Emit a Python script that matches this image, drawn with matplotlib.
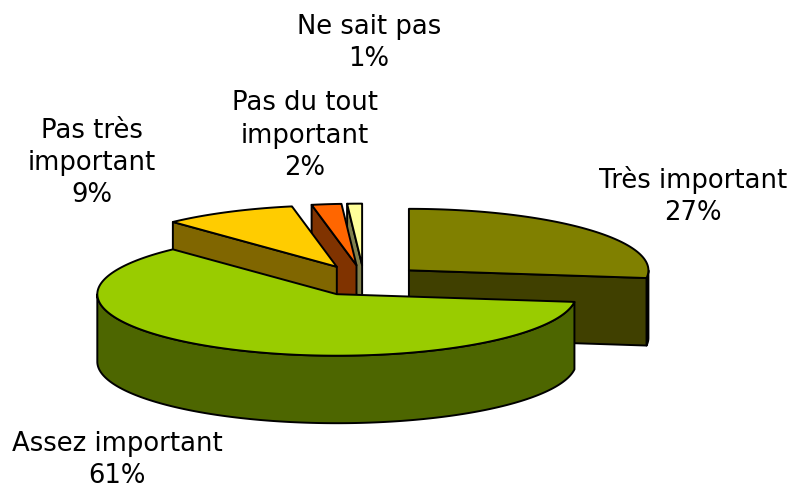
import numpy as np
import matplotlib
matplotlib.use("Agg")
import matplotlib.pyplot as plt
from matplotlib.patches import Polygon

categories = ["Très important", "Assez important", "Pas très important", "Pas du tout important", "Ne sait pas"]
values = [27, 61, 9, 2, 1]
label_text = ["Très important\n27%", "Assez important\n61%", "Pas très\nimportant\n9%", "Pas du tout\nimportant\n2%", "Ne sait pas\n1%"]
top_colors = ["#808000", "#99CC00", "#FFCC00", "#FF6600", "#FFFF99"]
side_colors = ["#404000", "#4D6600", "#806600", "#803300", "#80804D"]
label_pos = [(693, 196), (117, 460), (92, 163), (305, 135.5), (369, 43)]
draw_order = [0, 4, 3, 2, 1]

W, H = 793, 486
CX, CY, RX, RY, DEPTH, EXPLODE = 364, 280.5, 239.5, 61.5, 67.5, 0.25

fig = plt.figure(figsize=(W / 100, H / 100), dpi=100)
ax = fig.add_axes([0, 0, 1, 1])
ax.set_xlim(0, W)
ax.set_ylim(H, 0)
ax.axis("off")


def pt(c, a):
    a = np.asarray(a)
    return np.column_stack([c[0] + RX * np.sin(a), c[1] - RY * np.cos(a)])


edges = np.radians(np.concatenate([[0], np.cumsum(values)]) / np.sum(values) * 360)
lw = 1.4
for i in draw_order:
    a0, a1 = edges[i], edges[i + 1]
    mid = (a0 + a1) / 2
    c = (CX + EXPLODE * RX * np.sin(mid), CY - EXPLODE * RY * np.cos(mid))
    down = np.array([0, DEPTH])
    kw = dict(edgecolor="black", linewidth=lw, joinstyle="round")
    # outer front wall
    lo, hi = max(a0, np.pi / 2), min(a1, 3 * np.pi / 2)
    if hi > lo:
        arc = pt(c, np.linspace(lo, hi, 200))
        ax.add_patch(Polygon(np.vstack([arc, (arc + down)[::-1]]), facecolor=side_colors[i], **kw))
    # radial cut faces
    for a, visible in ((a0, np.sin(a0) < 0), (a1, np.sin(a1) > 0)):
        if visible:
            rim = pt(c, [a])[0]
            ctr = np.array(c)
            ax.add_patch(Polygon([ctr, rim, rim + down, ctr + down], facecolor=side_colors[i], **kw))
    # top
    arc = pt(c, np.linspace(a0, a1, 300))
    ax.add_patch(Polygon(np.vstack([[c], arc]), facecolor=top_colors[i], **kw))

for (x, y), s in zip(label_pos, label_text):
    ax.text(x, y, s, ha="center", va="center", fontsize=18.6, family="DejaVu Sans",
            linespacing=1.31, color="black", multialignment="center")

fig.savefig("out.png", dpi=100)
